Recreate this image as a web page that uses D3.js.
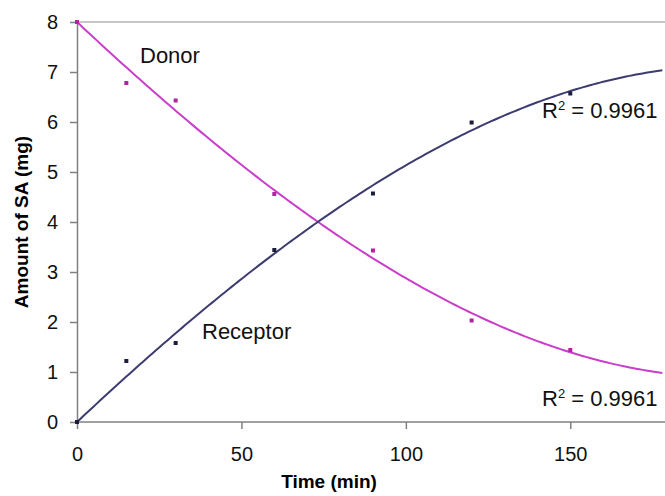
<!DOCTYPE html>
<html>
<head>
<meta charset="utf-8">
<script src="https://cdn.jsdelivr.net/npm/d3@7"></script>
<style>
  body { margin: 0; background: #fff; }
  svg text { font-family: "Liberation Sans", Arial, sans-serif; }
</style>
</head>
<body>
<svg id="chart" width="665" height="496"></svg>
<script>
// sampling times (min)
var times = [0, 15, 30, 60, 90, 120, 150];
// amount of SA (mg)
var donor = [8.0, 6.78, 6.43, 4.56, 3.43, 2.03, 1.44];
var receptor = [0.0, 1.22, 1.58, 3.44, 4.57, 5.99, 6.57];
var xTicks = [0, 50, 100, 150];
var yTicks = [0, 1, 2, 3, 4, 5, 6, 7, 8];
var r2Label = "0.9961";

var svg = d3.select("#chart");
var margin = {left: 77, top: 22, right: 0, bottom: 74};
var W = 665, H = 496;

var x = d3.scaleLinear().domain([0, 178.5]).range([margin.left, W - 1]);
var y = d3.scaleLinear().domain([0, 8]).range([H - margin.bottom, margin.top]);

// least squares polynomial trendline with the intercept set, like the spreadsheet option
function polyFit(xs, ys, order, intercept) {
    var n = order, A = [], i, j, k;
    var yy = ys.map(function (v) { return v - intercept; });
    for (i = 0; i < n; i++) {
        A.push([]);
        for (j = 0; j < n; j++) A[i].push(d3.sum(xs, function (v) { return Math.pow(v, i + j + 2); }));
        A[i].push(d3.sum(xs, function (v, idx) { return yy[idx] * Math.pow(v, i + 1); }));
    }
    for (i = 0; i < n; i++) {
        var p = i;
        for (k = i + 1; k < n; k++) if (Math.abs(A[k][i]) > Math.abs(A[p][i])) p = k;
        var t = A[i]; A[i] = A[p]; A[p] = t;
        for (k = i + 1; k < n; k++) {
            var f = A[k][i] / A[i][i];
            for (j = i; j <= n; j++) A[k][j] -= f * A[i][j];
        }
    }
    var c = new Array(n);
    for (i = n - 1; i >= 0; i--) {
        var s = A[i][n];
        for (j = i + 1; j < n; j++) s -= A[i][j] * c[j];
        c[i] = s / A[i][i];
    }
    return function (v) {
        return intercept + d3.sum(c, function (cc, idx) { return cc * Math.pow(v, idx + 1); });
    };
}

// top frame line
svg.append("line")
    .attr("x1", x(0)).attr("x2", W)
    .attr("y1", y(8)).attr("y2", y(8))
    .attr("stroke", "#b4b4b4").attr("stroke-width", 1.5);

var xAxis = svg.append("g")
    .attr("transform", "translate(0," + y(0) + ")")
    .call(d3.axisBottom(x).tickValues(xTicks).tickSize(7).tickPadding(18).tickSizeOuter(0));
var yAxis = svg.append("g")
    .attr("transform", "translate(" + x(0) + ",0)")
    .call(d3.axisLeft(y).tickValues(yTicks).tickSize(7).tickPadding(12).tickSizeOuter(0));

[xAxis, yAxis].forEach(function (g) {
    g.select(".domain").attr("stroke", "#808080").attr("stroke-width", 1.5);
    g.selectAll(".tick line").attr("stroke", "#808080").attr("stroke-width", 1.5);
    g.selectAll(".tick text").attr("fill", "#111").style("font-size", "20px")
        .style("font-family", "'Liberation Sans', Arial, sans-serif");
});
xAxis.select(".domain").attr("d", "M" + x(0) + ",0H" + W);

svg.append("text")
    .attr("x", 329).attr("y", 488)
    .attr("text-anchor", "middle")
    .style("font-size", "19px").style("font-weight", "bold")
    .text("Time (min)");
svg.append("text")
    .attr("transform", "translate(28," + 222 + ") rotate(-90)")
    .attr("text-anchor", "middle")
    .style("font-size", "19px").style("font-weight", "bold")
    .text("Amount of SA (mg)");

var series = [
    {name: "Donor", values: donor, start: 8, color: "#c93fc9", dot: "#b0259f"},
    {name: "Receptor", values: receptor, start: 0, color: "#3c3c70", dot: "#1c1c3c"}
];

var line = d3.line().x(function (d) { return x(d[0]); }).y(function (d) { return y(d[1]); });

series.forEach(function (s) {
    var fit = polyFit(times, s.values, 3, s.start);
    var pts = d3.range(0, 178.6, 1).map(function (t) { return [t, fit(t)]; });
    svg.append("path")
        .attr("d", line(pts))
        .attr("fill", "none")
        .attr("stroke", s.color)
        .attr("stroke-width", 2);
    svg.selectAll(null).data(times).enter().append("rect")
        .attr("x", function (t) { return x(t) - 2; })
        .attr("y", function (t, i) { return y(s.values[i]) - 2; })
        .attr("width", 4).attr("height", 4)
        .attr("fill", s.dot);
});

svg.append("text").attr("x", 140).attr("y", 63)
    .style("font-size", "22px").attr("fill", "#111").text("Donor");
svg.append("text").attr("x", 202).attr("y", 339)
    .style("font-size", "22px").attr("fill", "#111").text("Receptor");

[118, 406].forEach(function (yy) {
    var t = svg.append("text").attr("x", 542).attr("y", yy)
        .style("font-size", "22px").attr("fill", "#111");
    t.append("tspan").text("R");
    t.append("tspan").attr("dy", -8).style("font-size", "13px").text("2");
    t.append("tspan").attr("dy", 8).text(" = " + r2Label);
});
</script>
</body>
</html>
